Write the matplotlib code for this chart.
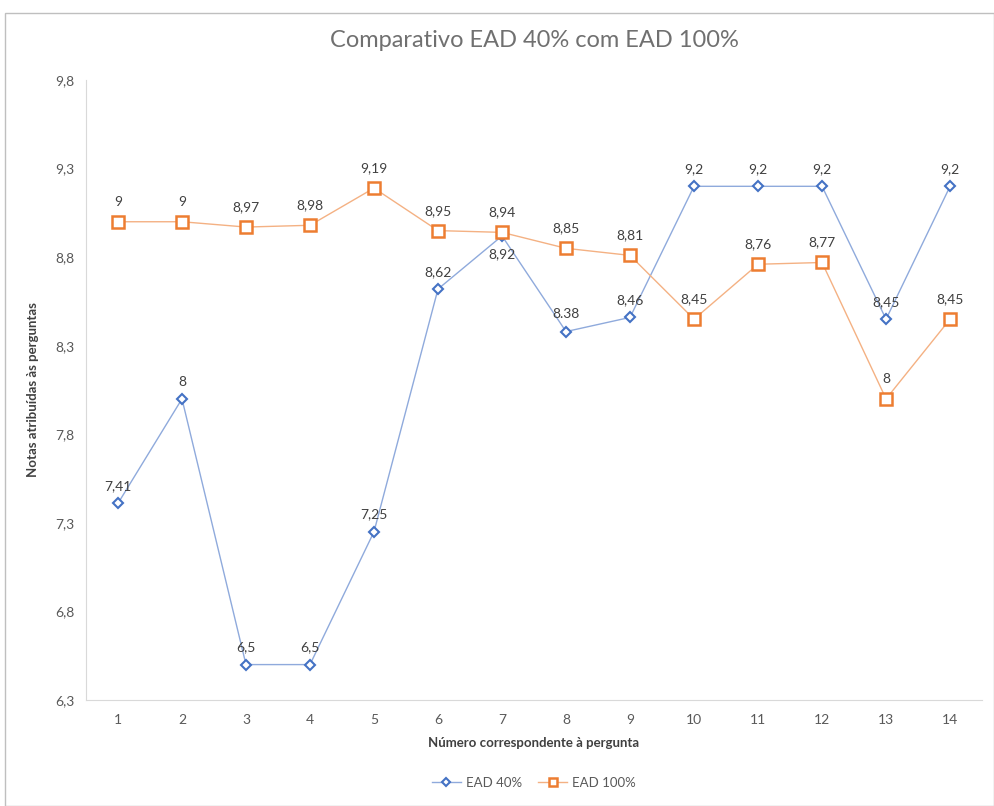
import matplotlib.pyplot as plt
from matplotlib.patches import Rectangle

plt.rcParams['font.family'] = ['Lato', 'DejaVu Sans']

perguntas = list(range(1, 15))
ead40 = [7.41, 8, 6.5, 6.5, 7.25, 8.62, 8.92, 8.38, 8.46, 9.2, 9.2, 9.2, 8.45, 9.2]
ead100 = [9, 9, 8.97, 8.98, 9.19, 8.95, 8.94, 8.85, 8.81, 8.45, 8.76, 8.77, 8, 8.45]
rot40 = ['7,41', '8', '6,5', '6,5', '7,25', '8,62', '8,92', '8.38', '8,46',
         '9,2', '9,2', '9,2', '8,45', '9,2']
rot100 = ['9', '9', '8,97', '8,98', '9,19', '8,95', '8,94', '8,85', '8,81',
          '8,45', '8,76', '8,77', '8', '8,45']
yticks = [6.3, 6.8, 7.3, 7.8, 8.3, 8.8, 9.3, 9.8]

cinza = '#595959'

fig = plt.figure(figsize=(9.95, 8.06), dpi=100)
ax = fig.add_axes([0.0864, 0.1315, 0.9006, 0.7692])

# moldura do grafico
fig.patches.append(Rectangle((0.005, 0.0), 0.994, 0.984, transform=fig.transFigure,
                             fill=False, edgecolor='#bfbfbf', linewidth=1))

ax.plot(perguntas, ead40, color='#8faadc', linewidth=1, marker='D', markersize=5,
        markerfacecolor='white', markeredgecolor='#4472c4', markeredgewidth=1.5,
        label='EAD 40%')
ax.plot(perguntas, ead100, color='#f4b183', linewidth=1, marker='s', markersize=8,
        markerfacecolor='white', markeredgecolor='#ed7d31', markeredgewidth=1.8,
        label='EAD 100%')

for x, y, t in zip(perguntas, ead40, rot40):
    if t == '8,92':
        ax.annotate(t, (x, y), xytext=(0, -9), textcoords='offset points',
                    ha='center', va='top', fontsize=10, color='#404040')
    else:
        ax.annotate(t, (x, y), xytext=(0, 8), textcoords='offset points',
                    ha='center', va='bottom', fontsize=10, color='#404040')
for x, y, t in zip(perguntas, ead100, rot100):
    ax.annotate(t, (x, y), xytext=(0, 10), textcoords='offset points',
                ha='center', va='bottom', fontsize=10, color='#404040')

ax.set_xlim(0.5, 14.5)
ax.set_ylim(6.3, 9.8)
ax.set_xticks(perguntas)
ax.set_yticks(yticks)
ax.set_yticklabels([str(v).replace('.', ',') for v in yticks])
ax.tick_params(axis='both', length=0, colors=cinza, labelsize=10)
ax.tick_params(axis='y', pad=8)
ax.tick_params(axis='x', pad=10)

for s in ['top', 'right']:
    ax.spines[s].set_visible(False)
for s in ['left', 'bottom']:
    ax.spines[s].set_color('#d9d9d9')

ax.set_title('Comparativo EAD 40% com EAD 100%', fontsize=17, color='#707070', pad=24)
ax.set_xlabel('Número correspondente à pergunta', fontsize=9.5, fontweight='bold',
              color='#404040', labelpad=8)
ax.set_ylabel('Notas atribuídas às perguntas', fontsize=9.5, fontweight='bold',
              color='#404040', labelpad=12)

ax.legend(loc='upper center', bbox_to_anchor=(0.5, -0.105), ncol=2, frameon=False,
          fontsize=9.5, labelcolor=cinza, handlelength=2.2, columnspacing=1.2,
          markerscale=0.8, handletextpad=0.4)

fig.savefig('out.png', dpi=100)
